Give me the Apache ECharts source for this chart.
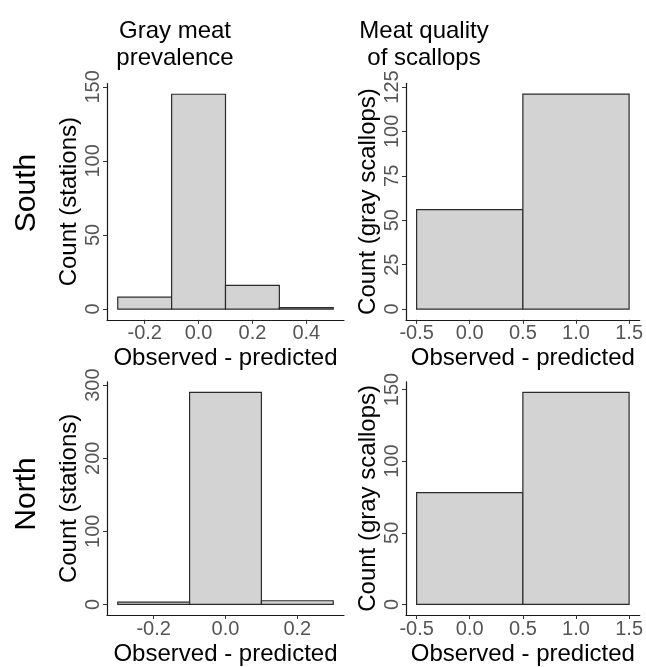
<!DOCTYPE html>
<html>
<head>
<meta charset="utf-8">
<script src="https://cdn.jsdelivr.net/npm/echarts@6/dist/echarts.min.js"></script>
<style>html,body{margin:0;padding:0;background:#fff}#c{width:646px;height:667px}</style>
</head>
<body>
<div id="c"></div>
<script>
// Histogram bins: [start, end]
const southGrayBins = [[-0.3,-0.1],[-0.1,0.1],[0.1,0.3],[0.3,0.5]];
const southGrayCounts = [8,145,16,1];
const southQualBins = [[-0.5,0.5],[0.5,1.5]];
const southQualCounts = [56,121];
const northGrayBins = [[-0.3,-0.1],[-0.1,0.1],[0.1,0.3]];
const northGrayCounts = [3,290,5];
const northQualBins = [[-0.5,0.5],[0.5,1.5]];
const northQualCounts = [78,148];

const southGrayXTicks = [-0.2,0.0,0.2,0.4];
const northGrayXTicks = [-0.2,0.0,0.2];
const qualXTicks = [-0.5,0.0,0.5,1.0,1.5];
const southGrayYTicks = [0,50,100,150];
const southQualYTicks = [0,25,50,75,100,125];
const northGrayYTicks = [0,100,200,300];
const northQualYTicks = [0,50,100,150];

const colTitles = ["Gray meat\nprevalence", "Meat quality\nof scallops"];
const rowLabels = ["South", "North"];
const xName = "Observed - predicted";
const yNames = ["Count (stations)", "Count (gray scallops)"];

const FONT = "Liberation Sans, Arial, sans-serif";
const chart = echarts.init(document.getElementById('c'));

const panels = [
  {bins: southGrayBins, counts: southGrayCounts, xt: southGrayXTicks, yt: southGrayYTicks, yName: yNames[0], grid:{left:107, top:83.5, width:237, height:236.3}},
  {bins: southQualBins, counts: southQualCounts, xt: qualXTicks, yt: southQualYTicks, yName: yNames[1], grid:{left:406, top:83.3, width:236, height:236.5}},
  {bins: northGrayBins, counts: northGrayCounts, xt: northGrayXTicks, yt: northGrayYTicks, yName: yNames[0], grid:{left:107, top:381.8, width:237, height:236.2}},
  {bins: northQualBins, counts: northQualCounts, xt: qualXTicks, yt: northQualYTicks, yName: yNames[1], grid:{left:406, top:381.8, width:236, height:236.2}}
];

const grids = [], xAxes = [], yAxes = [], series = [];
panels.forEach((p, i) => {
  grids.push(Object.assign({containLabel:false}, p.grid));
  const lo = p.bins[0][0], hi = p.bins[p.bins.length-1][1];
  const xr = hi - lo;
  const ymax = Math.max(...p.counts);
  xAxes.push({
    type:'value', gridIndex:i, min: lo - 0.05*xr, max: hi + 0.05*xr,
    splitLine:{show:false},
    axisLine:{show:true, onZero:false, lineStyle:{color:'#1a1a1a', width:1.2}},
    axisTick:{show:true, customValues:p.xt, length:4, lineStyle:{color:'#333'}},
    axisLabel:{customValues:p.xt, formatter:v=>v.toFixed(1), color:'#555', fontSize:20, fontFamily:FONT, margin:4},
    name: xName, nameLocation:'middle', nameGap:27,
    nameTextStyle:{color:'#000', fontSize:24, fontFamily:FONT}
  });
  yAxes.push({
    type:'value', gridIndex:i, min: -0.05*ymax, max: 1.05*ymax,
    splitLine:{show:false},
    axisLine:{show:true, onZero:false, lineStyle:{color:'#1a1a1a', width:1.2}},
    axisTick:{show:true, customValues:p.yt, length:4, lineStyle:{color:'#333'}},
    axisLabel:{customValues:p.yt, rotate:90, color:'#555', fontSize:20, fontFamily:FONT, margin:4},
    name: p.yName, nameLocation:'middle', nameRotate:90, nameGap:26,
    nameTextStyle:{color:'#000', fontSize:24, fontFamily:FONT}
  });
  series.push({
    type:'custom', xAxisIndex:i, yAxisIndex:i,
    data: p.bins.map((b,k)=>[b[0], b[1], p.counts[k]]),
    renderItem: (params, api) => {
      const a = api.coord([api.value(0), api.value(2)]);
      const b = api.coord([api.value(1), 0]);
      return {type:'rect', shape:{x:a[0], y:a[1], width:b[0]-a[0], height:b[1]-a[1]},
        style:{fill:'#d3d3d3', stroke:'#2b2b2b', lineWidth:1.2}};
    },
    encode:{x:[0,1], y:2}, silent:true
  });
});

const graphic = [
  {type:'text', x:175, y:18, style:{text:colTitles[0], font:'24px '+FONT, fill:'#000', align:'center', lineHeight:27}},
  {type:'text', x:424, y:18, style:{text:colTitles[1], font:'24px '+FONT, fill:'#000', align:'center', lineHeight:27}},
  {type:'text', x:27, y:193, rotation:Math.PI/2, style:{text:rowLabels[0], font:'30px '+FONT, fill:'#000', align:'center', verticalAlign:'middle'}},
  {type:'text', x:27, y:494, rotation:Math.PI/2, style:{text:rowLabels[1], font:'30px '+FONT, fill:'#000', align:'center', verticalAlign:'middle'}}
];

chart.setOption({animation:false, grid:grids, xAxis:xAxes, yAxis:yAxes, series, graphic});
</script>
</body>
</html>
